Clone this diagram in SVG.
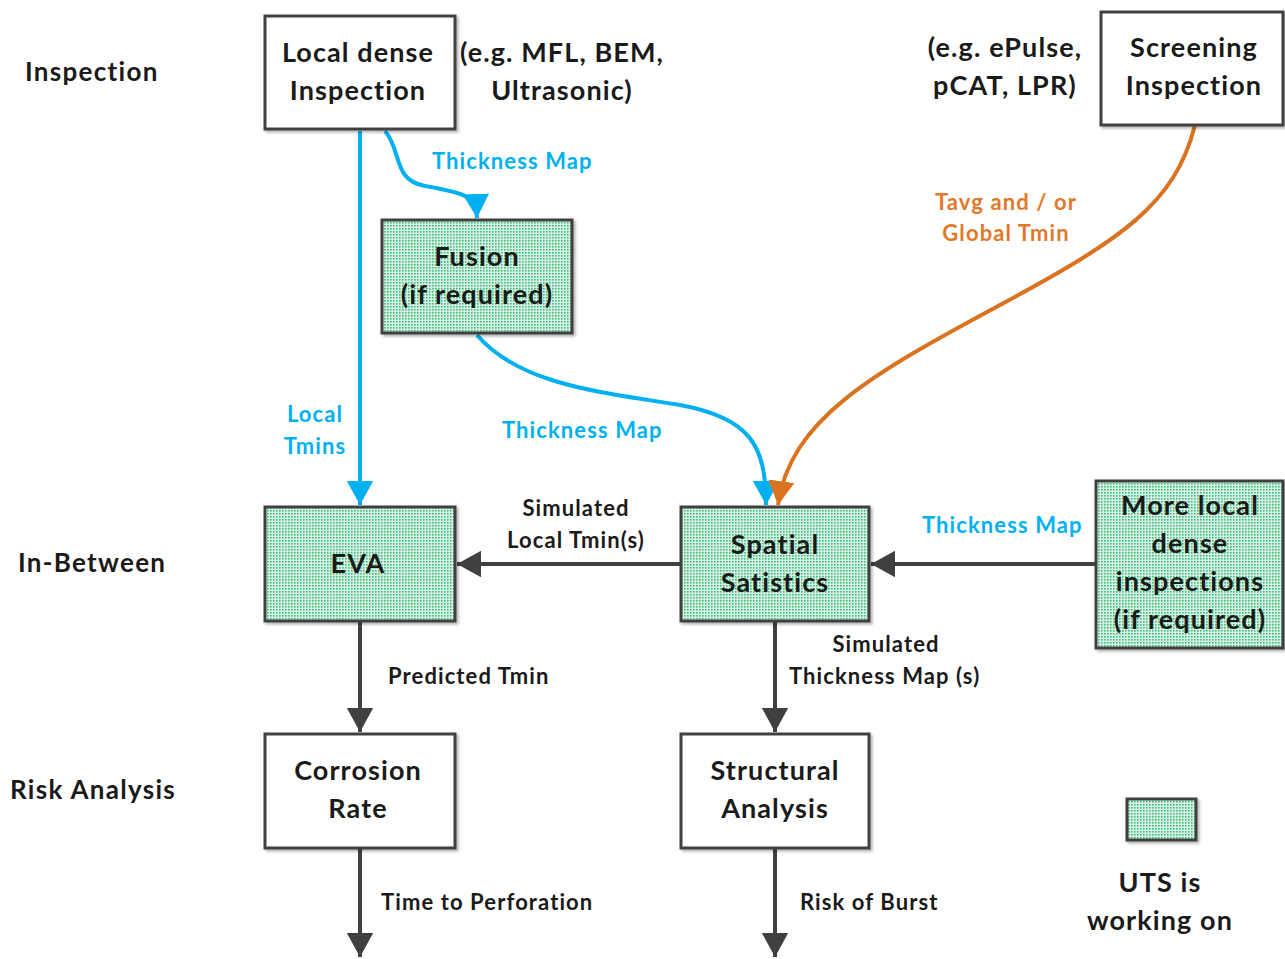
<svg xmlns="http://www.w3.org/2000/svg" width="1285" height="959" viewBox="0 0 1285 959">
<defs>
<pattern id="dots" width="3" height="3" patternUnits="userSpaceOnUse">
<rect width="3" height="3" fill="#d6f3e3"/>
<rect width="1.6" height="1.6" fill="#3fbb7d"/>
</pattern>
<filter id="sh" x="-10%" y="-10%" width="130%" height="130%">
<feDropShadow dx="2" dy="2" stdDeviation="1.5" flood-color="#000" flood-opacity="0.3"/>
</filter>
<marker id="ag" markerWidth="8" markerHeight="8" refX="6" refY="4" orient="auto" markerUnits="strokeWidth" viewBox="0 0 8 8">
<path d="M0,0.7 L6,4 L0,7.3 Z" fill="#404040"/>
</marker>
<marker id="ab" markerWidth="8" markerHeight="8" refX="6" refY="4" orient="auto" markerUnits="strokeWidth" viewBox="0 0 8 8">
<path d="M0,0.7 L6,4 L0,7.3 Z" fill="#00b0f0"/>
</marker>
<marker id="ao" markerWidth="8" markerHeight="8" refX="6" refY="4" orient="auto" markerUnits="strokeWidth" viewBox="0 0 8 8">
<path d="M0,0.7 L6,4 L0,7.3 Z" fill="#d9731f"/>
</marker>
</defs>
<style>
text{font-family:Lato,"Open Sans","Liberation Sans",sans-serif;font-weight:bold;fill:#1a1a1a}
.bx{fill:#fff;stroke:#404040;stroke-width:3;filter:url(#sh)}
.gx{fill:url(#dots);stroke:#404040;stroke-width:3;filter:url(#sh)}
.t{font-size:27px;letter-spacing:1.1px;text-anchor:middle}
.side{font-size:26px;letter-spacing:1.3px}
.lb{font-size:22px;letter-spacing:1.1px}
.blue{fill:#00b0f0}
.org{fill:#e07a2a}
.cg{fill:none;stroke:#404040;stroke-width:4;marker-end:url(#ag)}
.cb{fill:none;stroke:#00b0f0;stroke-width:4;marker-end:url(#ab)}
.co{fill:none;stroke:#d9731f;stroke-width:4;marker-end:url(#ao)}
</style>
<rect width="1285" height="959" fill="#fff"/>

<g id="side-labels">
<text class="side" x="25" y="81">Inspection</text>
<text class="side" x="18" y="572">In-Between</text>
<text class="side" x="10" y="799">Risk Analysis</text>
</g>

<g id="connectors">
<path class="cb" d="M360,131 L360,505"/>
<path class="cb" d="M385,131 C402,150 392,180 425,186 C465,193 476,196 477,218"/>
<path class="cb" d="M477,335 C520,385 600,392 680,405 C750,418 766,445 766,505"/>
<path class="co" d="M1195,125 C1175,205 1120,240 1000,305 C870,375 790,420 778,505"/>
<path class="cg" d="M681,564 L457,564"/>
<path class="cg" d="M1096,564 L871,564"/>
<path class="cg" d="M360,621 L360,732"/>
<path class="cg" d="M775,621 L775,732"/>
<path class="cg" d="M360,848 L360,957"/>
<path class="cg" d="M775,848 L775,957"/>
<text class="lb blue" x="432" y="169">Thickness Map</text>
<text class="lb blue" x="315" y="422" text-anchor="middle">Local</text>
<text class="lb blue" x="315" y="454" text-anchor="middle">Tmins</text>
<text class="lb blue" x="502" y="438">Thickness Map</text>
<text class="lb org" x="1006" y="210" text-anchor="middle">Tavg and / or</text>
<text class="lb org" x="1006" y="241" text-anchor="middle">Global Tmin</text>
<text class="lb" x="576" y="516" text-anchor="middle">Simulated</text>
<text class="lb" x="576" y="548" text-anchor="middle">Local Tmin(s)</text>
<text class="lb blue" x="922" y="533">Thickness Map</text>
<text class="lb" x="388" y="684">Predicted Tmin</text>
<text class="lb" x="886" y="652" text-anchor="middle">Simulated</text>
<text class="lb" x="789" y="684">Thickness Map (s)</text>
<text class="lb" x="381" y="910">Time to Perforation</text>
<text class="lb" x="800" y="910">Risk of Burst</text>
</g>

<g id="local-dense">
<rect class="bx" x="265" y="16" width="190" height="113"/>
<text class="t" x="358" y="62">Local dense</text>
<text class="t" x="358" y="100">Inspection</text>
<text class="t" x="562" y="62">(e.g. MFL, BEM,</text>
<text class="t" x="562" y="100">Ultrasonic)</text>
</g>

<g id="screening">
<rect class="bx" x="1101" y="12" width="182" height="113"/>
<text class="t" x="1194" y="57">Screening</text>
<text class="t" x="1194" y="95">Inspection</text>
<text class="t" x="1005" y="57">(e.g. ePulse,</text>
<text class="t" x="1005" y="95">pCAT, LPR)</text>
</g>

<g id="fusion">
<rect class="gx" x="382" y="220" width="190" height="113"/>
<text class="t" x="477" y="266">Fusion</text>
<text class="t" x="477" y="304">(if required)</text>
</g>

<g id="eva">
<rect class="gx" x="265" y="507" width="190" height="114"/>
<text class="t" x="358" y="573">EVA</text>
</g>

<g id="spatial">
<rect class="gx" x="681" y="507" width="188" height="114"/>
<text class="t" x="775" y="554">Spatial</text>
<text class="t" x="775" y="592">Satistics</text>
</g>

<g id="more-local">
<rect class="gx" x="1096" y="481" width="187" height="167"/>
<text class="t" x="1190" y="515">More local</text>
<text class="t" x="1190" y="553">dense</text>
<text class="t" x="1190" y="591">inspections</text>
<text class="t" x="1190" y="629">(if required)</text>
</g>

<g id="corrosion">
<rect class="bx" x="265" y="734" width="190" height="114"/>
<text class="t" x="358" y="780">Corrosion</text>
<text class="t" x="358" y="818">Rate</text>
</g>

<g id="structural">
<rect class="bx" x="681" y="734" width="188" height="114"/>
<text class="t" x="775" y="780">Structural</text>
<text class="t" x="775" y="818">Analysis</text>
</g>

<g id="legend">
<rect class="gx" x="1127" y="799" width="69" height="41"/>
<text class="t" x="1160" y="892">UTS is</text>
<text class="t" x="1160" y="930">working on</text>
</g>
</svg>
